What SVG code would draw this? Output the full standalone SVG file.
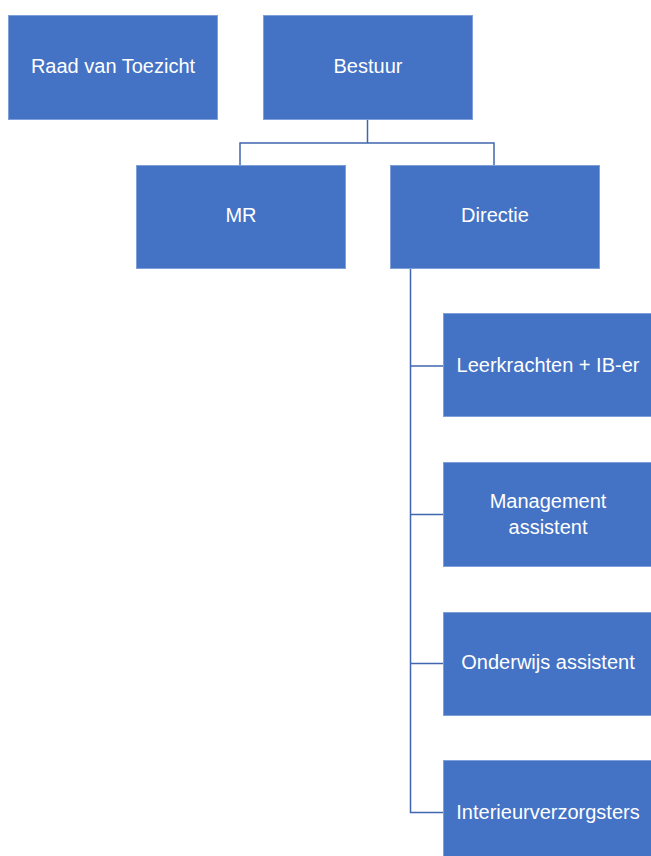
<svg xmlns="http://www.w3.org/2000/svg" width="651" height="856" viewBox="0 0 651 856">
<style>
.box{fill:#4472c4;stroke:#7e9fd8;stroke-width:1}
.lbl{fill:#ffffff;font-family:"Liberation Sans",Arial,sans-serif;font-size:20px;text-anchor:middle}
.con{fill:none;stroke:#3f66ae;stroke-width:1.5}
</style>
<rect width="651" height="856" fill="#ffffff"/>
<g id="connectors">
<path class="con" d="M367.5 120 V143 M240 165 V143 H494 V165"/>
<path class="con" d="M410.5 268 V812.5 H443 M410.5 366 H443 M410.5 514.5 H443 M410.5 663.5 H443"/>
</g>
<g id="raad"><rect class="box" x="8.5" y="15.5" width="209" height="104"/><text class="lbl" x="113" y="73">Raad van Toezicht</text></g>
<g id="bestuur"><rect class="box" x="263.5" y="15.5" width="209" height="104"/><text class="lbl" x="368" y="73">Bestuur</text></g>
<g id="mr"><rect class="box" x="136.5" y="165.5" width="209" height="103"/><text class="lbl" x="241" y="222">MR</text></g>
<g id="directie"><rect class="box" x="390.5" y="165.5" width="209" height="103"/><text class="lbl" x="495" y="222">Directie</text></g>
<g id="leerkrachten"><rect class="box" x="443.5" y="313.5" width="209" height="103"/><text class="lbl" x="548" y="372">Leerkrachten + IB-er</text></g>
<g id="management"><rect class="box" x="443.5" y="462.5" width="209" height="104"/><text class="lbl" x="548" y="508">Management</text><text class="lbl" x="548" y="534">assistent</text></g>
<g id="onderwijs"><rect class="box" x="443.5" y="612.5" width="209" height="103"/><text class="lbl" x="548" y="669">Onderwijs assistent</text></g>
<g id="interieur"><rect class="box" x="443.5" y="760.5" width="209" height="104"/><text class="lbl" x="548" y="819">Interieurverzorgsters</text></g>
</svg>
